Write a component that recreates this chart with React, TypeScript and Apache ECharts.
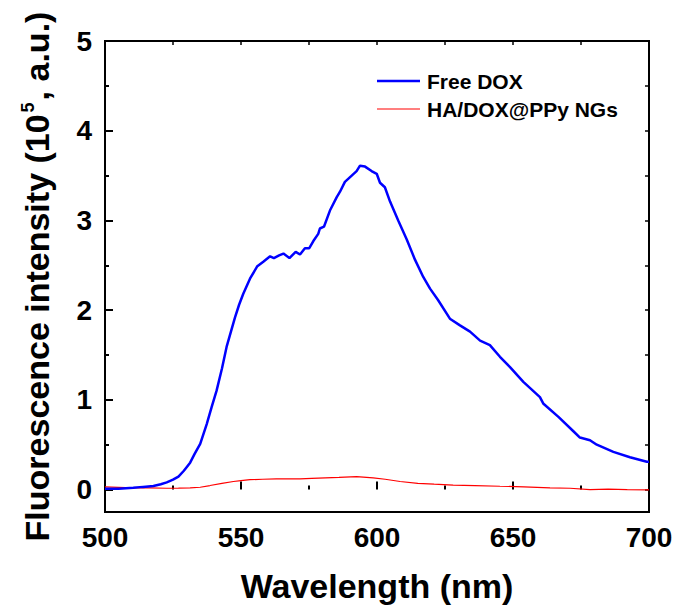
import React, { useEffect, useRef } from "react";
import * as echarts from "echarts";

const freeDoxWavelength = [500, 505, 510.4, 514, 517.8, 520.5, 522.7, 525, 527, 529, 531.3, 533, 535, 537.4, 539.2, 541, 543, 544.7, 546.3, 547.8, 549.3, 550.8, 553.3, 556, 558.2, 560.7, 562.1, 564, 565.6, 567.8, 570.1, 571.7, 573.5, 575.1, 576.6, 578.4, 579, 580.5, 582.7, 585.2, 586.4, 588.2, 590.7, 592.5, 593.75, 595.6, 598, 599.9, 601.1, 602.9, 604.8, 607.8, 610.9, 614, 617, 619.5, 622.5, 626.8, 630.5, 634.2, 637.9, 641.5, 645.2, 648.9, 653.8, 659.9, 661.1, 666.7, 672.2, 674.6, 678.3, 680.8, 686.9, 693, 699.2, 700];
const freeDoxIntensity = [0.01, 0.01, 0.02, 0.03, 0.04, 0.06, 0.08, 0.11, 0.145, 0.21, 0.3, 0.4, 0.51, 0.73, 0.92, 1.1, 1.35, 1.59, 1.76, 1.92, 2.06, 2.18, 2.35, 2.49, 2.54, 2.6, 2.58, 2.61, 2.63, 2.58, 2.65, 2.62, 2.69, 2.69, 2.77, 2.85, 2.91, 2.93, 3.11, 3.26, 3.32, 3.43, 3.5, 3.55, 3.61, 3.6, 3.55, 3.52, 3.42, 3.37, 3.21, 3.0, 2.79, 2.56, 2.37, 2.24, 2.11, 1.905, 1.83, 1.76, 1.66, 1.61, 1.48, 1.365, 1.2, 1.03, 0.96, 0.81, 0.65, 0.58, 0.55, 0.5, 0.42, 0.36, 0.31, 0.31];

const ngsWavelength = [500, 505, 510, 516, 522.7, 527, 531.3, 535, 538.6, 543, 547.2, 550, 553.3, 558, 563, 568, 571.7, 576, 581, 586, 592.5, 598.6, 603, 608.5, 615, 621, 628, 636, 645.2, 654, 663.6, 671, 678.3, 685, 692, 699.7, 700];
const ngsIntensity = [0.03, 0.025, 0.02, 0.02, 0.015, 0.017, 0.02, 0.026, 0.045, 0.07, 0.09, 0.1, 0.11, 0.115, 0.12, 0.12, 0.12, 0.125, 0.13, 0.135, 0.145, 0.13, 0.115, 0.09, 0.07, 0.06, 0.05, 0.045, 0.037, 0.03, 0.02, 0.015, 0.0, 0.005, 0.0, -0.003, 0.0];

const seriesNames = ["Free DOX", "HA/DOX@PPy NGs"];
const seriesColors = ["#0000ff", "#ff0000"];
const seriesWidths = [2.5, 1.2];
const xTicks = { min: 500, max: 700, interval: 50 };
const yTicks = { min: 0, max: 5, interval: 1 };

const FONT = "'Liberation Sans', Arial, sans-serif";

export default function App() {
  const ref = useRef<HTMLDivElement>(null);
  useEffect(() => {
    if (!ref.current) return;
    const chart = echarts.init(ref.current, undefined, { renderer: "svg" });
    const pairs = (xs: number[], ys: number[]) => xs.map((x, i) => [x, ys[i]]);
    const legendGraphics: any[] = [];
    seriesNames.forEach((name, i) => {
      const cy = 81 + i * 28;
      legendGraphics.push({
        type: "line",
        shape: { x1: 377, y1: cy, x2: 420, y2: cy },
        style: { stroke: seriesColors[i], lineWidth: seriesWidths[i] },
      });
      legendGraphics.push({
        type: "text",
        x: 427,
        y: cy,
        style: {
          text: name,
          fill: "#000",
          font: `bold 21px ${FONT}`,
          verticalAlign: "middle",
          align: "left",
        },
      });
    });
    chart.setOption({
      animation: false,
      backgroundColor: "#fff",
      grid: [
        { left: 105, right: 29, top: 41, bottom: 100, show: true, borderColor: "#000", borderWidth: 2, backgroundColor: "transparent" },
        { left: 105, right: 29, top: 41, bottom: 122.4, show: false },
      ],
      graphic: legendGraphics,
      xAxis: [
        {
          type: "value", gridIndex: 0, position: "bottom",
          min: xTicks.min, max: xTicks.max, interval: xTicks.interval,
          axisLine: { show: false },
          axisTick: { show: true, inside: true, length: 8, lineStyle: { color: "#000", width: 2 } },
          minorTick: { show: true, splitNumber: 2, length: 4, lineStyle: { color: "#000", width: 2 } },
          splitLine: { show: false },
          axisLabel: { margin: 11, fontFamily: FONT, fontWeight: "bold", fontSize: 28, color: "#000" },
          name: "Wavelength (nm)", nameLocation: "middle", nameGap: 57,
          nameTextStyle: { fontFamily: FONT, fontWeight: "bold", fontSize: 34, color: "#000" },
        },
        {
          type: "value", gridIndex: 0, position: "top",
          min: xTicks.min, max: xTicks.max, interval: 25,
          axisLine: { show: false },
          axisTick: { show: true, inside: true, length: 4, lineStyle: { color: "#000", width: 1.5 } },
          axisLabel: { show: false }, splitLine: { show: false },
        },
        {
          type: "value", gridIndex: 1, show: false, min: 0, max: 1,
        },
      ],
      yAxis: [
        {
          type: "value", gridIndex: 0, position: "left",
          min: -0.25, max: 5,
          axisLine: { show: false }, axisTick: { show: false }, axisLabel: { show: false }, splitLine: { show: false },
          name: "{a|Fluorescence intensity (10}{s|5}{a|, a.u.)}",
          nameLocation: "middle", nameRotate: 90, nameGap: 50,
          nameTextStyle: {
            fontFamily: FONT, fontWeight: "bold", fontSize: 34, color: "#000",
            rich: {
              a: { fontFamily: FONT, fontWeight: "bold", fontSize: 34, lineHeight: 36, color: "#000" },
              s: { fontFamily: FONT, fontWeight: "bold", fontSize: 18, lineHeight: 36, verticalAlign: "top", color: "#000", padding: [0, 2, 18, 2] },
            },
          },
        },
        {
          type: "value", gridIndex: 1, position: "left",
          min: yTicks.min, max: yTicks.max, interval: yTicks.interval,
          axisLine: { show: false },
          axisTick: { show: true, inside: true, length: 8, lineStyle: { color: "#000", width: 2 } },
          minorTick: { show: true, splitNumber: 2, length: 4, lineStyle: { color: "#000", width: 2 } },
          splitLine: { show: false },
          axisLabel: { margin: 13, fontFamily: FONT, fontWeight: "bold", fontSize: 28, color: "#000" },
        },
        {
          type: "value", gridIndex: 1, position: "right",
          min: yTicks.min, max: yTicks.max, interval: 0.5,
          axisLine: { show: false },
          axisTick: { show: true, inside: true, length: 4, lineStyle: { color: "#000", width: 1.5 } },
          axisLabel: { show: false }, splitLine: { show: false },
        },
      ],
      series: [
        {
          name: seriesNames[0], type: "line", xAxisIndex: 0, yAxisIndex: 0,
          data: pairs(freeDoxWavelength, freeDoxIntensity),
          symbol: "none", lineStyle: { color: seriesColors[0], width: seriesWidths[0] }, itemStyle: { color: seriesColors[0] },
          z: 3,
        },
        {
          name: seriesNames[1], type: "line", xAxisIndex: 0, yAxisIndex: 0,
          data: pairs(ngsWavelength, ngsIntensity),
          symbol: "none", lineStyle: { color: seriesColors[1], width: seriesWidths[1] }, itemStyle: { color: seriesColors[1] },
          z: 2,
        },
      ],
    });
    return () => chart.dispose();
  }, []);
  return <div ref={ref} style={{ position: "fixed", left: 0, top: 0, width: 678, height: 612 }} />;
}
